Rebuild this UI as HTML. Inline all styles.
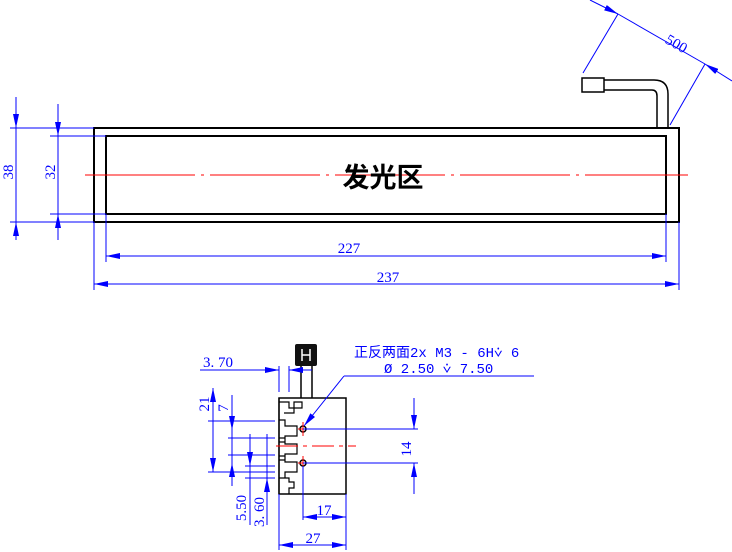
<!DOCTYPE html>
<html><head><style>body{margin:0;background:#fff}svg{display:block}</style></head><body>
<svg width="732" height="552" viewBox="0 0 732 552" xmlns="http://www.w3.org/2000/svg" font-family="Liberation Serif, Noto Serif CJK SC, serif">
<defs>
<marker id="a" viewBox="0 0 14 6" refX="14" refY="3" markerWidth="14" markerHeight="6" orient="auto-start-reverse" markerUnits="userSpaceOnUse"><path d="M0,0L14,3L0,6z" fill="#0000ff"/></marker>
</defs>
<g fill="none" stroke="#000" stroke-width="2">
<rect x="94" y="128" width="585" height="94"/>
<rect x="106" y="136" width="560" height="78"/>
<rect x="582" y="78" width="22" height="14" stroke-width="1.5"/>
<path d="M604 80H654Q668 80 668 94V128M604 90H652Q657 90 657 96V128" stroke-width="1.5"/>
</g>
<line x1="85" y1="175" x2="688" y2="175" stroke="#ff0000" stroke-width="1" stroke-dasharray="110 6 3 6"/>
<text x="383" y="187" font-size="27" font-weight="bold" text-anchor="middle" font-family="Liberation Sans, Noto Sans CJK SC, sans-serif">发光区</text>
<g stroke="#0000ff" stroke-width="1" fill="none">
<line x1="10" y1="128" x2="94" y2="128"/><line x1="10" y1="222" x2="94" y2="222"/>
<line x1="16" y1="97" x2="16" y2="128" marker-end="url(#a)"/><line x1="16" y1="240" x2="16" y2="222" marker-end="url(#a)"/><line x1="16" y1="128" x2="16" y2="222"/>
<line x1="50" y1="136" x2="106" y2="136"/><line x1="50" y1="214" x2="106" y2="214"/>
<line x1="58" y1="104" x2="58" y2="136" marker-end="url(#a)"/><line x1="58" y1="240" x2="58" y2="214" marker-end="url(#a)"/><line x1="58" y1="136" x2="58" y2="214"/>
<line x1="106" y1="214" x2="106" y2="262"/><line x1="666" y1="214" x2="666" y2="262"/>
<line x1="94" y1="222" x2="94" y2="290"/><line x1="679" y1="222" x2="679" y2="290"/>
<line x1="106" y1="256" x2="666" y2="256" marker-start="url(#a)" marker-end="url(#a)"/>
<line x1="94" y1="284" x2="679" y2="284" marker-start="url(#a)" marker-end="url(#a)"/>
<line x1="583" y1="73" x2="618" y2="14"/><line x1="670" y1="125" x2="705" y2="64"/>
<line x1="590" y1="0" x2="618" y2="14" marker-end="url(#a)"/><line x1="732" y1="81" x2="705" y2="64" marker-end="url(#a)"/><line x1="618" y1="14" x2="705" y2="64"/>
</g>
<g fill="#0000ff" font-size="15">
<text x="13" y="172" transform="rotate(-90 13 172)" text-anchor="middle">38</text>
<text x="55" y="172" transform="rotate(-90 55 172)" text-anchor="middle">32</text>
<text x="349" y="253" text-anchor="middle">227</text>
<text x="388" y="282" text-anchor="middle">237</text>
<text x="674" y="48" transform="rotate(30 674 48)" text-anchor="middle">500</text>
</g>
<g fill="none" stroke="#000" stroke-width="1.5">
<rect x="279" y="398" width="67" height="96"/>
<line x1="301" y1="366" x2="301" y2="398"/><line x1="312" y1="366" x2="312" y2="398"/>
<path d="M279 398v96M279 402h10v6h5v-6h8v6h-8v5h-10M279 420h6v6h12v10h-12v6h-6M279 438h6v6h12v10h-12v6h-6M279 456h6v6h12v10h-12v6h-6M279 478h10v4h5v6h-5v6" stroke-width="1.2"/>
<circle cx="303" cy="429" r="3"/><circle cx="303" cy="463" r="3"/>
</g>
<rect x="295" y="344" width="22" height="22" rx="2" fill="#111"/>
<path d="M302 349v12M310 349v12M302 355h8" stroke="#fff" stroke-width="1.5"/>
<g stroke="#ff0000" stroke-width="1">
<line x1="276" y1="446" x2="356" y2="446" stroke-dasharray="22 5 4 5"/>
<line x1="298" y1="429" x2="312" y2="429"/><line x1="303" y1="422" x2="303" y2="436"/>
<line x1="298" y1="463" x2="312" y2="463"/><line x1="303" y1="456" x2="303" y2="470"/>
</g>
<g stroke="#0000ff" stroke-width="1" fill="none">
<line x1="200" y1="370" x2="279" y2="370" marker-end="url(#a)"/><line x1="312" y1="370" x2="289" y2="370" marker-end="url(#a)"/>
<line x1="279" y1="366" x2="279" y2="392"/><line x1="289" y1="366" x2="289" y2="392"/>
<line x1="534" y1="376" x2="344" y2="376"/><line x1="344" y1="376" x2="304" y2="426" marker-end="url(#a)"/>
<line x1="303" y1="429" x2="418" y2="429"/><line x1="303" y1="463" x2="418" y2="463"/>
<line x1="414" y1="398" x2="414" y2="429" marker-end="url(#a)"/><line x1="414" y1="494" x2="414" y2="463" marker-end="url(#a)"/>
<line x1="208" y1="421" x2="275" y2="421"/><line x1="228" y1="438" x2="275" y2="438"/>
<line x1="208" y1="472" x2="275" y2="472"/><line x1="228" y1="455" x2="275" y2="455"/>
<line x1="245" y1="466" x2="275" y2="466"/><line x1="245" y1="478" x2="275" y2="478"/>
<line x1="213" y1="388" x2="213" y2="472" marker-start="url(#a)" marker-end="url(#a)"/>
<line x1="232" y1="395" x2="232" y2="486"/>
<line x1="232" y1="416" x2="232" y2="430" marker-end="url(#a)"/><line x1="232" y1="477" x2="232" y2="463" marker-end="url(#a)"/>
<line x1="250" y1="434" x2="250" y2="525"/><line x1="250" y1="452" x2="250" y2="466" marker-end="url(#a)"/>
<line x1="267" y1="434" x2="267" y2="525"/><line x1="267" y1="492" x2="267" y2="478" marker-end="url(#a)"/>
<line x1="279" y1="494" x2="279" y2="550"/><line x1="303" y1="466" x2="303" y2="520"/><line x1="346" y1="494" x2="346" y2="550"/>
<line x1="303" y1="517" x2="346" y2="517" marker-start="url(#a)" marker-end="url(#a)"/>
<line x1="279" y1="545" x2="346" y2="545" marker-start="url(#a)" marker-end="url(#a)"/>
</g>
<g fill="#0000ff" font-size="15">
<text x="203" y="367">3. 70</text>
<text x="354" y="357" font-size="14" font-family="Liberation Mono, Noto Sans CJK SC, monospace">正反两面2x  M3 - 6H&#x2A52; 6</text>
<text x="384" y="373" font-size="14" font-family="Liberation Mono, monospace">&#x00D8; 2.50 &#x2A52; 7.50</text>
<text x="209" y="404" transform="rotate(-90 209 404)" text-anchor="middle">21</text>
<text x="228" y="408" transform="rotate(-90 228 408)" text-anchor="middle">7</text>
<text x="246" y="508" transform="rotate(-90 246 508)" text-anchor="middle">5.50</text>
<text x="264" y="512" transform="rotate(-90 264 512)" text-anchor="middle">3. 60</text>
<text x="411" y="449" transform="rotate(-90 411 449)" text-anchor="middle">14</text>
<text x="324" y="515" text-anchor="middle">17</text>
<text x="313" y="543" text-anchor="middle">27</text>
</g>
</svg>
</body></html>
